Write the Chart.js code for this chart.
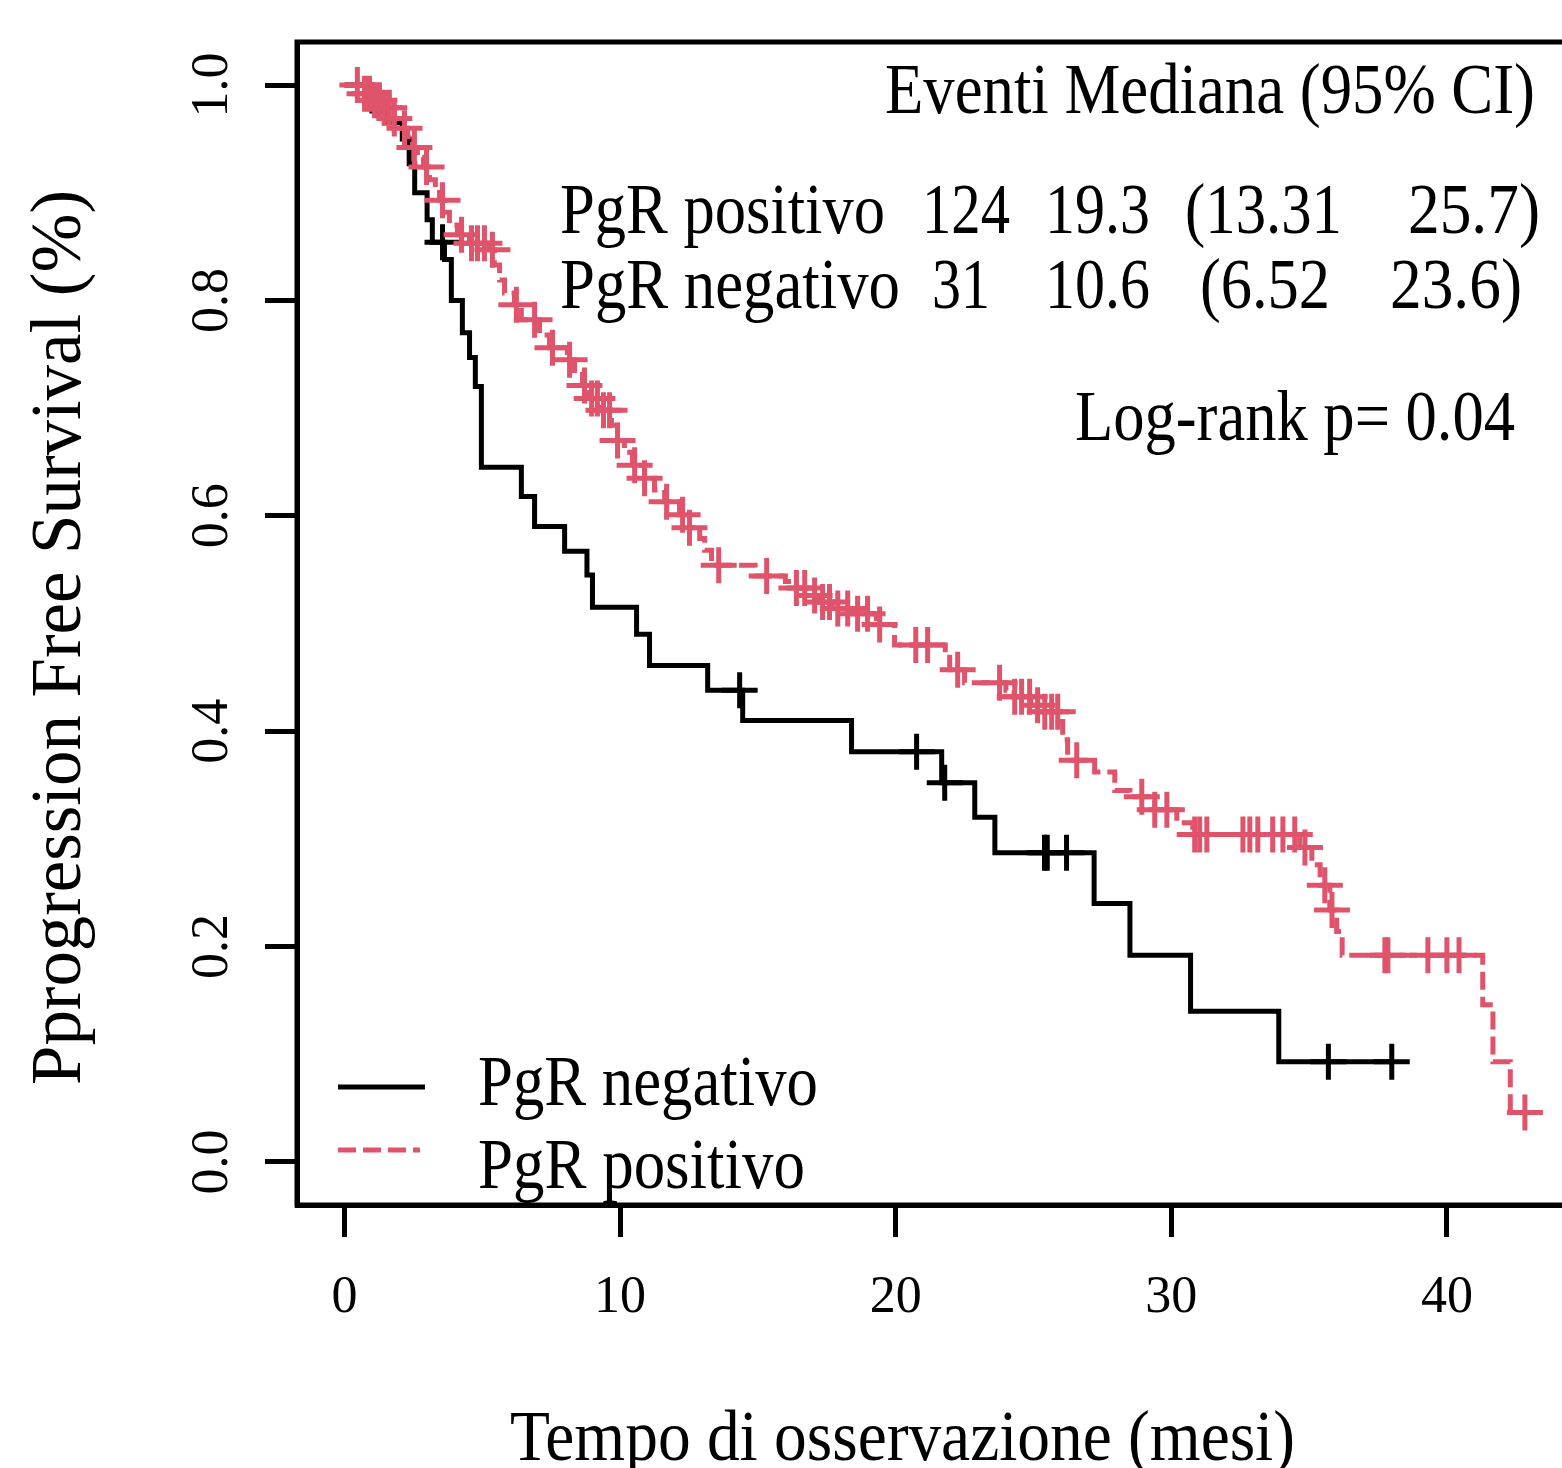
<!DOCTYPE html>
<html>
<head>
<meta charset="utf-8">
<script src="https://cdn.jsdelivr.net/npm/chart.js@4.4.1/dist/chart.umd.min.js"></script>
<style>
  html, body { margin: 0; padding: 0; background: #fff; overflow: hidden; }
  canvas { display: block; }
</style>
</head>
<body>
<canvas id="kmChart" width="1600" height="1468"></canvas>
<script>
// axis ticks
const xTicks = [0, 10, 20, 30, 40];
const yTicks = [0, 0.2, 0.4, 0.6, 0.8, 1.0];
const yTickLabels = ['0.0', '0.2', '0.4', '0.6', '0.8', '1.0'];

// PgR negativo: event times (months) and survival after each event
const negTimes = [1.0, 1.45, 2.1, 2.35, 2.55, 3.0, 3.19, 3.63, 3.88, 4.28, 4.54, 4.75, 4.97,
  6.42, 6.9, 7.99, 8.8, 9.0, 10.6, 11.07, 13.18, 14.45, 18.4, 21.67, 22.87, 23.6,
  27.2, 28.5, 30.7, 33.9];
const negSurv = [0.976, 0.965, 0.95, 0.927, 0.90, 0.875, 0.854, 0.838, 0.80, 0.77, 0.747, 0.72, 0.645,
  0.618, 0.59, 0.567, 0.545, 0.515, 0.49, 0.461, 0.438, 0.41, 0.381, 0.352, 0.32, 0.287,
  0.24, 0.192, 0.14, 0.093];
const negCensor = [3.56, 14.34, 20.76, 21.78, 25.4, 25.5, 26.2, 35.7, 38.0];

// PgR positivo
const posTimes = [0.73, 1.09, 1.45, 1.81, 2.07, 2.29, 2.47, 2.65, 2.87, 3.09, 3.3, 3.45, 3.63, 3.81,
  4.1, 4.54, 5.26, 5.44, 5.63, 5.81, 6.17, 6.42, 7.08, 7.44, 8.09, 8.35, 8.64, 8.89, 9.26,
  9.69, 9.91, 10.16, 10.45, 10.89, 11.25, 11.62, 12.16, 12.52, 12.89, 13.07, 13.32, 14.9,
  16.0, 16.4, 16.8, 17.2, 17.7, 18.3, 19.3, 19.96, 21.8, 21.96, 22.5, 24.0, 24.3, 24.9,
  25.4, 25.9, 26.06, 26.24, 27.22, 27.95, 28.5, 29.4, 30.2, 30.78, 34.66, 35.1, 35.4,
  35.75, 36.0, 36.2, 41.3, 41.67, 42.3];
const posSurv = [0.992, 0.986, 0.979, 0.969, 0.96, 0.952, 0.942, 0.933, 0.924, 0.912, 0.903, 0.893, 0.882, 0.87,
  0.861, 0.853, 0.847, 0.833, 0.819, 0.807, 0.796, 0.782, 0.768, 0.756, 0.745, 0.735, 0.721, 0.709, 0.698,
  0.684, 0.67, 0.659, 0.647, 0.635, 0.624, 0.613, 0.601, 0.589, 0.579, 0.568, 0.554, 0.544,
  0.539, 0.533, 0.526, 0.52, 0.514, 0.509, 0.499, 0.48, 0.471, 0.457, 0.445, 0.438, 0.432, 0.424,
  0.418, 0.409, 0.392, 0.373, 0.362, 0.345, 0.339, 0.327, 0.315, 0.304, 0.292, 0.276, 0.257,
  0.234, 0.214, 0.192, 0.146, 0.093, 0.046];
const posCensor = [0.47, 0.73, 0.91, 1.09, 1.27, 1.45, 1.63, 1.81, 2.18, 2.54, 2.98, 3.56, 4.25, 4.61,
  4.83, 5.08, 5.37, 6.24, 6.9, 7.55, 8.17, 8.71, 8.97, 9.18, 9.4, 9.62, 9.91, 10.53, 10.89,
  11.69, 12.27, 12.52, 13.58, 15.32, 16.4, 16.7, 17.06, 17.35, 17.6, 17.9, 18.26, 18.62, 18.98,
  19.42, 20.73, 21.16, 22.25, 23.77, 24.32, 24.57, 24.86, 25.15, 25.41, 25.66, 25.88, 26.57,
  28.93, 29.4, 29.84, 30.85, 31.03, 31.29, 32.6, 32.85, 33.14, 33.68, 34.05, 34.48, 34.85,
  35.57, 35.83, 37.75, 37.86, 39.31, 40.0, 40.44, 42.83];

// summary table
const groupNames = ['PgR positivo', 'PgR negativo'];
const groupEvents = ['124', '31'];
const groupMedian = ['19.3', '10.6'];
const groupLower = ['(13.31', '(6.52'];
const groupUpper = ['25.7)', '23.6)'];
const pValueText = 'Log-rank p= 0.04';

const RED = '#DF536B';
const serif = '"Liberation Serif", "Times New Roman", serif';

function survAt(times, surv, t) {
  let s = 1;
  for (let i = 0; i < times.length; i++) if (times[i] <= t) s = surv[i];
  return s;
}
function curve(times, surv, censor) {
  const pts = [{x: 0, y: 1}];
  times.forEach((t, i) => pts.push({x: t, y: surv[i]}));
  const end = censor[censor.length - 1];
  pts.push({x: end, y: survAt(times, surv, end)});
  return pts;
}
function marks(times, surv, censor) {
  return censor.map(t => ({x: t, y: survAt(times, surv, t)}));
}

// draw text stretched/squeezed to a given width
function fitText(ctx, str, x, y, w, size, vertical) {
  ctx.save();
  ctx.font = size + 'px ' + serif;
  ctx.fillStyle = '#000';
  ctx.textAlign = 'left';
  ctx.textBaseline = 'alphabetic';
  const m = ctx.measureText(str).width;
  ctx.translate(x, y);
  if (vertical) ctx.rotate(-Math.PI / 2);
  ctx.scale(w / m, 1);
  ctx.fillText(str, 0, 0);
  ctx.restore();
}

const decorPlugin = {
  id: 'decor',
  afterDraw(chart) {
    const ctx = chart.ctx;
    const a = chart.chartArea;
    const ys = chart.scales.y;

    // box
    ctx.save();
    ctx.strokeStyle = '#000';
    ctx.lineWidth = 5;
    ctx.strokeRect(a.left, a.top, a.right - a.left, a.bottom - a.top);
    ctx.restore();

    // y tick labels, parallel to the axis
    ctx.save();
    ctx.font = '52px ' + serif;
    ctx.fillStyle = '#000';
    ctx.textAlign = 'center';
    ctx.textBaseline = 'middle';
    yTicks.forEach((v, i) => {
      ctx.save();
      ctx.translate(213, ys.getPixelForValue(v));
      ctx.rotate(-Math.PI / 2);
      ctx.fillText(yTickLabels[i], 0, 0);
      ctx.restore();
    });
    ctx.restore();

    // axis titles
    fitText(ctx, 'Tempo di osservazione (mesi)', 510, 1460, 785, 72);
    fitText(ctx, 'Pprogression Free Survival (%)', 80, 1085, 895, 72, true);

    // summary table
    fitText(ctx, 'Eventi Mediana (95% CI)', 885, 113, 650, 72);
    const rowY = [233, 308];
    const cols = [
      {x: [560, 560], w: [325, 340], v: groupNames},
      {x: [922, 932], w: [88, 58], v: groupEvents},
      {x: [1045, 1045], w: [105, 105], v: groupMedian},
      {x: [1185, 1200], w: [157, 130], v: groupLower},
      {x: [1408, 1390], w: [132, 132], v: groupUpper}
    ];
    cols.forEach(c => c.v.forEach((s, i) => fitText(ctx, s, c.x[i], rowY[i], c.w[i], 72)));
    fitText(ctx, pValueText, 1075, 440, 440, 72);

    // legend
    const ds = chart.data.datasets;
    const items = [
      {d: ds[0], y: 1087, x2: 425, ty: 1105, tw: 340},
      {d: ds[2], y: 1150, x2: 420, ty: 1188, tw: 327}
    ];
    items.forEach(it => {
      ctx.save();
      ctx.strokeStyle = it.d.borderColor;
      ctx.lineWidth = it.d.borderWidth;
      ctx.setLineDash(it.d.borderDash || []);
      ctx.beginPath();
      ctx.moveTo(338, it.y);
      ctx.lineTo(it.x2, it.y);
      ctx.stroke();
      ctx.restore();
      fitText(ctx, it.d.label, 478, it.ty, it.tw, 72);
    });
  }
};

const ctxEl = document.getElementById('kmChart');

new Chart(ctxEl, {
  type: 'line',
  data: {
    datasets: [
      {
        label: 'PgR negativo',
        data: curve(negTimes, negSurv, negCensor),
        borderColor: '#000',
        borderWidth: 5,
        stepped: true,
        pointRadius: 0,
        fill: false,
        order: 3
      },
      {
        label: 'neg censor',
        data: marks(negTimes, negSurv, negCensor),
        showLine: false,
        pointStyle: 'cross',
        pointRadius: 18,
        pointBorderWidth: 5,
        borderColor: '#000',
        pointBorderColor: '#000',
        order: 2
      },
      {
        label: 'PgR positivo',
        data: curve(posTimes, posSurv, posCensor),
        borderColor: RED,
        borderWidth: 5,
        borderDash: [18, 7],
        stepped: true,
        pointRadius: 0,
        fill: false,
        order: 1
      },
      {
        label: 'pos censor',
        data: marks(posTimes, posSurv, posCensor),
        showLine: false,
        pointStyle: 'cross',
        pointRadius: 18,
        pointBorderWidth: 5,
        borderColor: RED,
        pointBorderColor: RED,
        order: 0
      }
    ]
  },
  options: {
    responsive: false,
    animation: false,
    devicePixelRatio: 1,
    layout: { padding: { top: 42, right: 23, left: 0, bottom: 0 } },
    plugins: {
      legend: { display: false },
      tooltip: { enabled: false }
    },
    scales: {
      x: {
        type: 'linear',
        min: -1.72,
        max: 44.72,
        afterBuildTicks: s => { s.ticks = xTicks.map(v => ({value: v})); },
        afterFit: s => { s.height = 263; },
        ticks: {
          color: '#000',
          padding: 30,
          maxRotation: 0,
          font: { family: serif, size: 52 },
          callback: v => String(v)
        },
        grid: {
          drawOnChartArea: false,
          drawTicks: true,
          tickLength: 32,
          color: '#000',
          lineWidth: 5
        },
        border: { display: true, color: '#000', width: 5 }
      },
      y: {
        type: 'linear',
        min: -0.04,
        max: 1.04,
        afterBuildTicks: s => { s.ticks = yTicks.map(v => ({value: v})); },
        afterFit: s => { s.width = 297; },
        ticks: { display: false },
        grid: {
          drawOnChartArea: false,
          drawTicks: true,
          tickLength: 32,
          color: '#000',
          lineWidth: 5
        },
        border: { display: true, color: '#000', width: 5 }
      }
    }
  },
  plugins: [decorPlugin]
});
</script>
</body>
</html>
